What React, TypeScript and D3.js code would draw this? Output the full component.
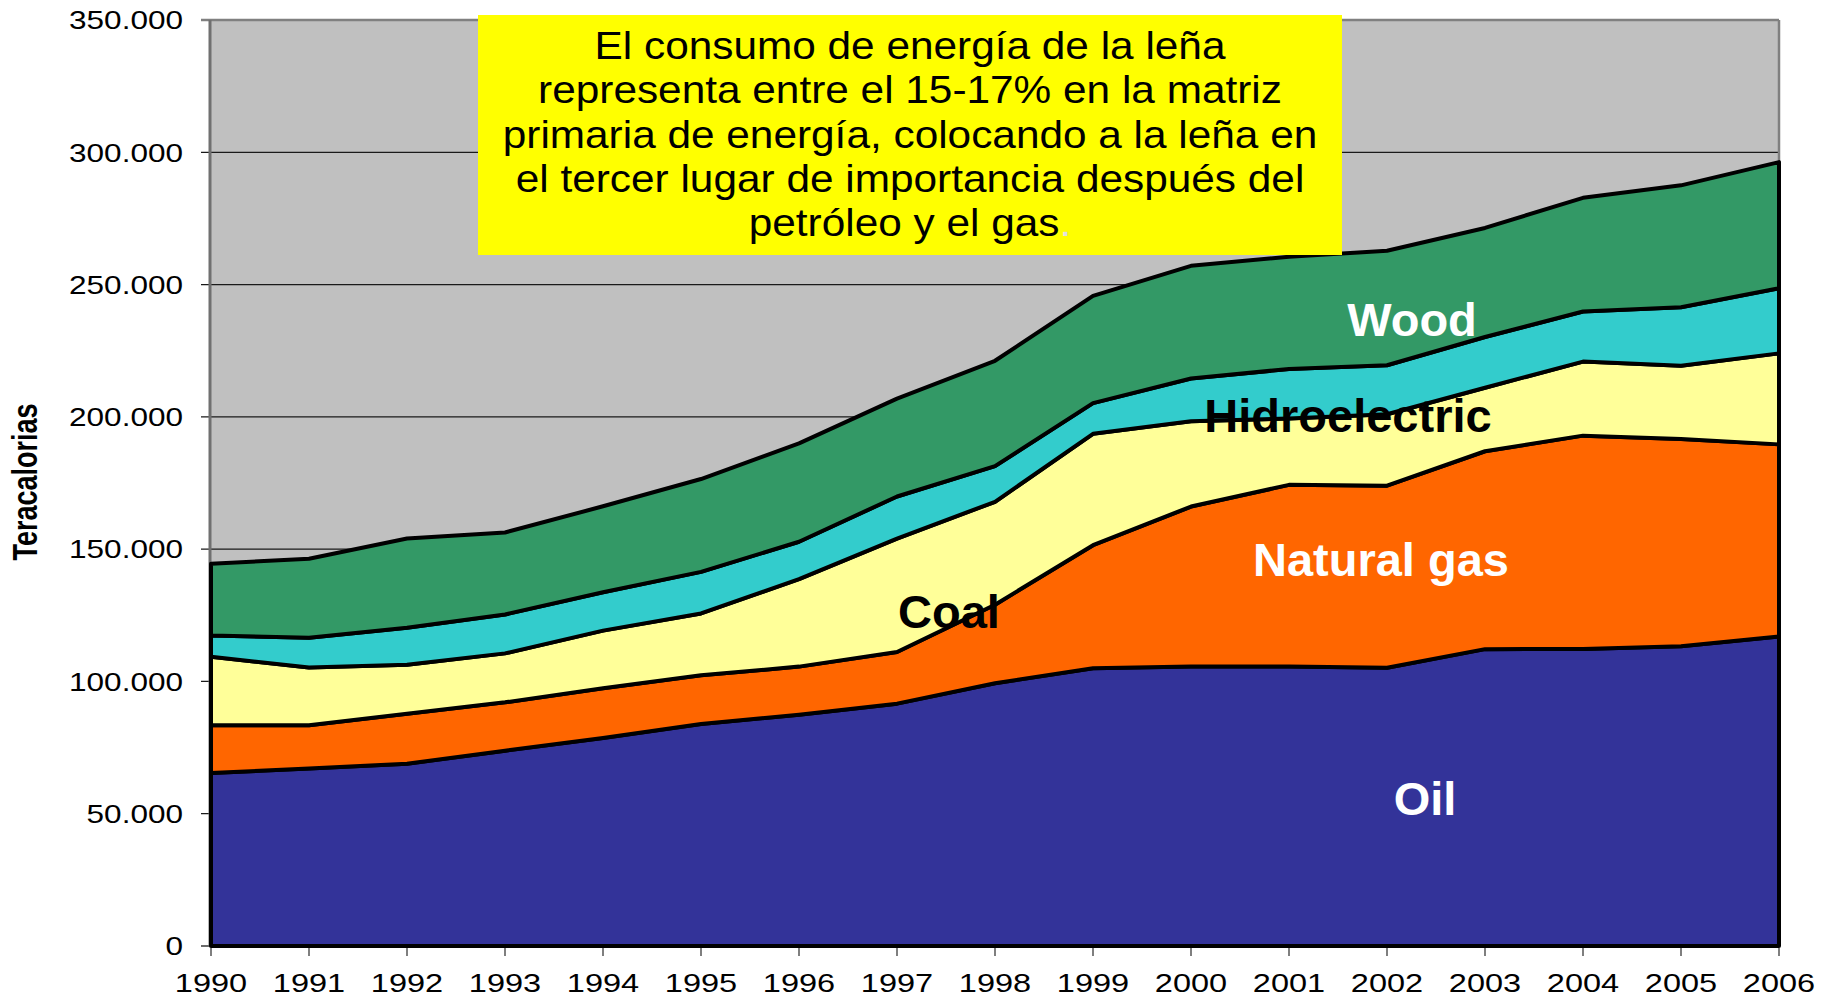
import * as d3 from 'd3';

const years = [1990, 1991, 1992, 1993, 1994, 1995, 1996, 1997, 1998, 1999, 2000, 2001, 2002, 2003, 2004, 2005, 2006];

// teracalorías per source (stacked bottom to top)
const oil = [65400, 67100, 68900, 73800, 78600, 83900, 87400, 91600, 99300, 105000, 105600, 105600, 105200, 112200, 112300, 113300, 117000];
const naturalGas = [18000, 16300, 18900, 18300, 18800, 18400, 18200, 19500, 29700, 46500, 60500, 68700, 68800, 74800, 80600, 78300, 72600];
const coal = [25900, 21900, 18500, 18500, 21800, 23400, 33100, 42900, 38900, 42100, 32200, 25100, 27000, 24000, 28000, 27700, 34400];
const hydro = [8100, 11200, 14000, 14700, 14500, 15700, 14100, 15900, 13500, 11600, 16200, 18700, 18500, 19200, 18900, 22100, 24600];
const wood = [27100, 29900, 33700, 31000, 32500, 35100, 37200, 37000, 39800, 40500, 42600, 42400, 43300, 41200, 43000, 46100, 47700];

const yTicks = [0, 50000, 100000, 150000, 200000, 250000, 300000, 350000];

const seriesKeys = ['oil', 'gas', 'coal', 'hydro', 'wood'];
const seriesColors: Record<string, string> = {
  oil: '#333399',
  gas: '#FF6600',
  coal: '#FFFF99',
  hydro: '#33CCCC',
  wood: '#339966',
};

const noteLines = [
  'El consumo de energía de la leña',
  'representa entre el 15-17% en la matriz',
  'primaria de energía, colocando a la leña en',
  'el tercer lugar de importancia después del',
  'petróleo y el gas',
];

const FONT = '"Liberation Sans", Arial, sans-serif';

export default function App() {
  const width = 1829;
  const height = 1000;
  const left = 211;
  const right = 1779;
  const top = 20;
  const bottom = 946;

  const rows = years.map((year, i) => ({
    year,
    oil: oil[i],
    gas: naturalGas[i],
    coal: coal[i],
    hydro: hydro[i],
    wood: wood[i],
  }));

  const x = d3.scaleLinear().domain([1990, 2006]).range([left, right]);
  const y = d3.scaleLinear().domain([0, 350000]).range([bottom, top]);

  const stacked = d3.stack<any>().keys(seriesKeys)(rows);
  const area = d3
    .area<any>()
    .x((d) => x(d.data.year))
    .y0((d) => y(d[0]))
    .y1((d) => y(d[1]));

  const fmt = d3.formatLocale({ decimal: ',', thousands: '.', grouping: [3], currency: ['', ''] }).format(',');

  return (
    <svg width={width} height={height} style={{ position: 'absolute', left: 0, top: 0, background: '#fff' }}>
      <rect x={left} y={top} width={right - left} height={bottom - top} fill="#C0C0C0" />

      {yTicks.slice(1, -1).map((v) => (
        <line key={v} x1={left - 10} x2={right} y1={y(v)} y2={y(v)} stroke="#1a1a1a" strokeWidth={1.3} />
      ))}
      <line x1={left - 10} x2={left} y1={y(0)} y2={y(0)} stroke="#1a1a1a" strokeWidth={1.3} />
      <line x1={left - 10} x2={right} y1={top} y2={top} stroke="#808080" strokeWidth={2.5} />
      <line x1={right} x2={right} y1={top} y2={bottom} stroke="#808080" strokeWidth={2.5} />
      <line x1={left - 1} x2={left - 1} y1={top} y2={bottom} stroke="#707070" strokeWidth={3} />

      {stacked.map((s) => (
        <path
          key={s.key}
          d={area(s) || ''}
          fill={seriesColors[s.key]}
          stroke="#000"
          strokeWidth={4}
          strokeLinejoin="round"
        />
      ))}

      {years.map((yr) => (
        <line key={yr} x1={x(yr)} x2={x(yr)} y1={bottom + 2} y2={bottom + 10} stroke="#555" strokeWidth={1.5} />
      ))}

      {years.map((yr) => (
        <text
          key={yr}
          transform={`translate(${x(yr)},992) scale(1.25,1)`}
          textAnchor="middle"
          fontFamily={FONT}
          fontSize={26}
          fill="#000"
        >
          {yr}
        </text>
      ))}

      {yTicks.map((v) => (
        <text
          key={v}
          transform={`translate(183,${y(v)}) scale(1.19,1)`}
          textAnchor="end"
          dy="0.35em"
          fontFamily={FONT}
          fontSize={26.5}
          fill="#000"
        >
          {fmt(v)}
        </text>
      ))}

      <text
        transform="translate(37,482) scale(1.3,1) rotate(-90)"
        textAnchor="middle"
        fontFamily={FONT}
        fontWeight="bold"
        fontSize={27}
        fill="#000"
      >
        Teracalorias
      </text>

      <text x={1425} y={815} textAnchor="middle" fontFamily={FONT} fontWeight="bold" fontSize={47} fill="#fff">
        Oil
      </text>
      <text x={1381} y={576} textAnchor="middle" fontFamily={FONT} fontWeight="bold" fontSize={47} fill="#fff">
        Natural gas
      </text>
      <text x={949} y={628} textAnchor="middle" fontFamily={FONT} fontWeight="bold" fontSize={47} fill="#000">
        Coal
      </text>
      <text x={1348} y={432} textAnchor="middle" fontFamily={FONT} fontWeight="bold" fontSize={47} fill="#000">
        Hidroelectric
      </text>
      <text x={1412} y={336} textAnchor="middle" fontFamily={FONT} fontWeight="bold" fontSize={47} fill="#fff">
        Wood
      </text>

      <rect x={478} y={15} width={864} height={240} fill="#FFFF00" />
      <g transform="translate(910,0) scale(1.1,1)">
        {noteLines.map((line, i) => (
          <text key={i} x={0} y={59 + i * 44.3} textAnchor="middle" fontFamily={FONT} fontSize={38.5} fill="#000">
            {line}
            {i === noteLines.length - 1 ? <tspan fill="#e0e0e0">.</tspan> : null}
          </text>
        ))}
      </g>
    </svg>
  );
}
